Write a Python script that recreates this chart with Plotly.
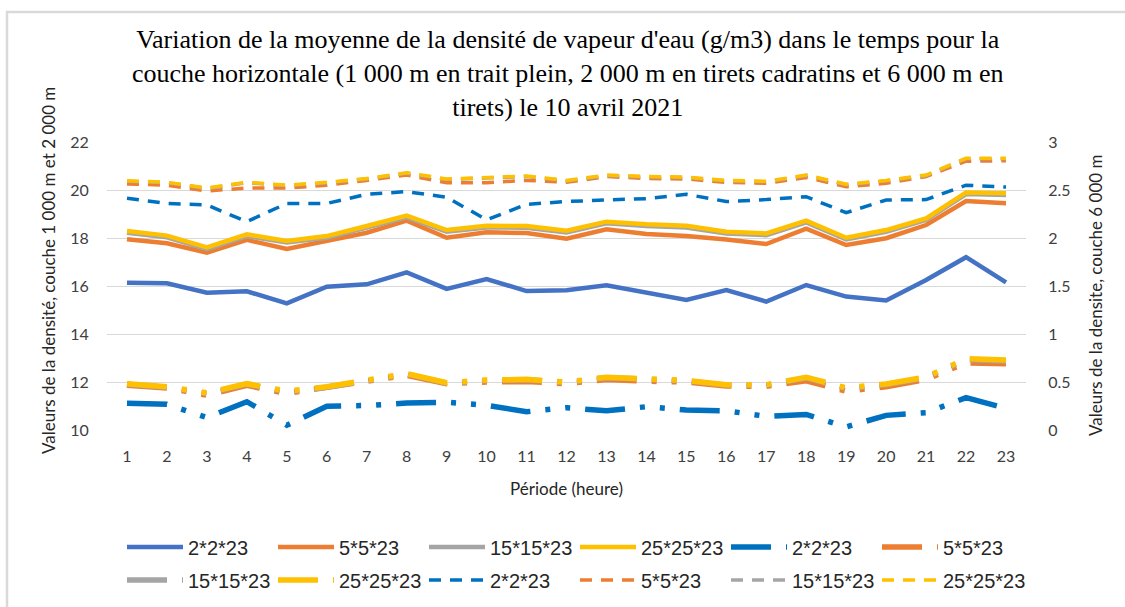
import plotly.graph_objects as go

periods = list(range(1, 24))
tick_labels = [str(p) for p in periods]

# Couche 1 000 m (trait plein) - axe gauche
c1000_2 = [16.14, 16.11, 15.72, 15.78, 15.28, 15.97, 16.07, 16.57, 15.88, 16.29, 15.79, 15.82,
           16.03, 15.72, 15.42, 15.83, 15.35, 16.04, 15.56, 15.40, 16.25, 17.20, 16.15]
c1000_5 = [17.95, 17.78, 17.39, 17.92, 17.54, 17.88, 18.22, 18.72, 18.01, 18.24, 18.21, 17.97,
           18.36, 18.17, 18.08, 17.94, 17.75, 18.39, 17.71, 17.99, 18.54, 19.54, 19.45]
c1000_15 = [18.22, 18.03, 17.54, 18.08, 17.81, 18.01, 18.43, 18.86, 18.26, 18.44, 18.43, 18.23,
            18.61, 18.50, 18.44, 18.19, 18.12, 18.65, 17.94, 18.26, 18.75, 19.83, 19.79]
c1000_25 = [18.29, 18.10, 17.61, 18.15, 17.88, 18.08, 18.50, 18.93, 18.33, 18.51, 18.50, 18.30,
            18.68, 18.57, 18.51, 18.26, 18.19, 18.72, 18.01, 18.33, 18.82, 19.90, 19.86]

# Couche 2 000 m (tirets cadratins) - axe gauche
c2000_2 = [11.11, 11.07, 10.52, 11.18, 10.20, 10.99, 11.02, 11.12, 11.16, 11.03, 10.76, 10.93,
           10.80, 10.97, 10.83, 10.80, 10.57, 10.65, 10.13, 10.61, 10.72, 11.35, 10.90]
c2000_5 = [11.86, 11.75, 11.45, 11.86, 11.52, 11.75, 12.03, 12.28, 11.93, 12.00, 12.02, 11.93,
           12.10, 12.03, 12.00, 11.83, 11.82, 12.05, 11.62, 11.80, 12.11, 12.80, 12.76]
c2000_15 = [11.91, 11.78, 11.52, 11.91, 11.59, 11.78, 12.06, 12.33, 11.95, 12.06, 12.09, 11.98,
            12.18, 12.11, 12.05, 11.87, 11.87, 12.17, 11.73, 11.89, 12.18, 12.93, 12.88]
c2000_25 = [11.93, 11.80, 11.55, 11.93, 11.62, 11.80, 12.08, 12.35, 11.97, 12.08, 12.11, 12.00,
            12.20, 12.13, 12.07, 11.89, 11.89, 12.20, 11.76, 11.92, 12.21, 12.97, 12.92]

# Couche 6 000 m (tirets) - axe droit
c6000_2 = [2.414, 2.360, 2.344, 2.170, 2.360, 2.360, 2.455, 2.483, 2.424, 2.190, 2.350, 2.380,
           2.396, 2.410, 2.455, 2.380, 2.400, 2.430, 2.264, 2.396, 2.400, 2.550, 2.530]
c6000_5 = [2.563, 2.550, 2.490, 2.520, 2.520, 2.550, 2.600, 2.656, 2.576, 2.576, 2.600, 2.580,
           2.640, 2.620, 2.615, 2.580, 2.570, 2.630, 2.535, 2.570, 2.640, 2.800, 2.805]
c6000_15 = [2.590, 2.575, 2.515, 2.575, 2.545, 2.575, 2.615, 2.675, 2.610, 2.625, 2.640, 2.595,
            2.650, 2.635, 2.630, 2.595, 2.585, 2.650, 2.555, 2.595, 2.650, 2.825, 2.825]
c6000_25 = [2.597, 2.580, 2.520, 2.580, 2.550, 2.580, 2.620, 2.680, 2.615, 2.630, 2.646, 2.600,
            2.656, 2.640, 2.635, 2.600, 2.590, 2.656, 2.560, 2.600, 2.656, 2.830, 2.830]

names = ["2*2*23", "5*5*23", "15*15*23", "25*25*23"]

title_text = ("Variation de la moyenne de la densité de vapeur d'eau (g/m3) dans le temps pour la<br>"
              "couche horizontale (1 000 m en trait plein, 2 000 m en tirets cadratins et 6 000 m en<br>"
              "tirets) le 10 avril 2021")

LONGDASH = "40px,15px,5px,15px,5px,15px"
DASH = "12px,9px"

W, H = 1125, 607
PL, PR, PT, PB = 107, 1026, 142, 430  # plot area in pixels
PW, PH = PR - PL, PB - PT


def px_x(px):
    return (px - PL) / PW


def px_y(py):
    return (PB - py) / PH


fig = go.Figure()

solid_colors = ["#4472C4", "#ED7D31", "#A5A5A5", "#FFC000"]
for name, vals, col in zip(names, [c1000_2, c1000_5, c1000_15, c1000_25], solid_colors):
    fig.add_trace(go.Scatter(x=periods, y=vals, name=name, mode="lines",
                             line=dict(color=col, width=4.5), legend="legend"))

ld_colors = ["#0070C0", "#ED7D31", "#A5A5A5", "#FFC000"]
ld_legends = ["legend", "legend", "legend2", "legend2"]
for name, vals, col, lg in zip(names, [c2000_2, c2000_5, c2000_15, c2000_25], ld_colors, ld_legends):
    fig.add_trace(go.Scatter(x=periods, y=vals, name=name, mode="lines",
                             line=dict(color=col, width=5.5, dash=LONGDASH), legend=lg))

d_colors = ["#0070C0", "#ED7D31", "#A5A5A5", "#FFC000"]
for name, vals, col in zip(names, [c6000_2, c6000_5, c6000_15, c6000_25], d_colors):
    fig.add_trace(go.Scatter(x=periods, y=vals, name=name, mode="lines", yaxis="y2",
                             line=dict(color=col, width=3.5, dash=DASH), legend="legend2"))

tick_font = dict(family="Lato, Carlito, Liberation Sans", size=16, color="#404040")
leg_font = dict(family="Liberation Sans", size=20, color="#262626")

legend_common = dict(orientation="h", xref="container", yref="container", xanchor="left",
                     yanchor="middle", entrywidth=80, entrywidthmode="pixels", itemwidth=56,
                     font=leg_font, bgcolor="rgba(0,0,0,0)", borderwidth=0, tracegroupgap=0)

fig.update_layout(
    width=W, height=H,
    margin=dict(l=PL, r=W - PR, t=PT, b=H - PB, autoexpand=False),
    paper_bgcolor="white", plot_bgcolor="white",
    xaxis=dict(range=[0.5, 23.5], tickmode="array", tickvals=periods, ticktext=tick_labels,
               showgrid=False, zeroline=False, showline=False,
               ticks="outside", ticklen=12, tickcolor="rgba(0,0,0,0)", tickfont=tick_font),
    yaxis=dict(range=[10, 22], dtick=2, tick0=10, showgrid=True, gridcolor="#D9D9D9", gridwidth=1.2,
               zeroline=False, showline=False,
               ticks="outside", ticklen=14, tickcolor="rgba(0,0,0,0)", tickfont=tick_font),
    yaxis2=dict(range=[0, 3], dtick=0.5, tick0=0, overlaying="y", side="right", showgrid=False,
                zeroline=False, showline=False,
                ticks="outside", ticklen=18, tickcolor="rgba(0,0,0,0)", tickfont=tick_font),
    legend=dict(x=122 / W, y=1 - 547 / H, **legend_common),
    legend2=dict(x=122 / W, y=1 - 580 / H, **legend_common),
    showlegend=True,
)

fig.add_annotation(text=title_text, xref="paper", yref="paper", x=px_x(567), y=px_y(73),
                   xanchor="center", yanchor="middle", showarrow=False, align="center",
                   font=dict(family="Liberation Serif, Times New Roman", size=26, color="#000000"))

axis_title_font = dict(family="Lato, Carlito, Liberation Sans", size=17, color="#262626")
fig.add_annotation(text="Valeurs de la densité, couche 1 000 m et 2 000 m", textangle=-90,
                   xref="paper", yref="paper", x=px_x(48), y=px_y(271),
                   xanchor="center", yanchor="middle", showarrow=False, font=axis_title_font)
fig.add_annotation(text="Valeurs de la densite, couche 6 000 m", textangle=-90,
                   xref="paper", yref="paper", x=px_x(1095), y=px_y(295),
                   xanchor="center", yanchor="middle", showarrow=False, font=axis_title_font)
fig.add_annotation(text="Période (heure)", xref="paper", yref="paper", x=0.5, y=px_y(488),
                   xanchor="center", yanchor="middle", showarrow=False, font=axis_title_font)

fig.add_shape(type="rect", xref="paper", yref="paper",
              x0=px_x(7), x1=px_x(1135), y0=px_y(620), y1=px_y(12),
              line=dict(color="#D9D9D9", width=2.5), layer="below")

fig.write_html("out.html", config={"displayModeBar": False},
               post_script="document.body.style.margin='0px';")
